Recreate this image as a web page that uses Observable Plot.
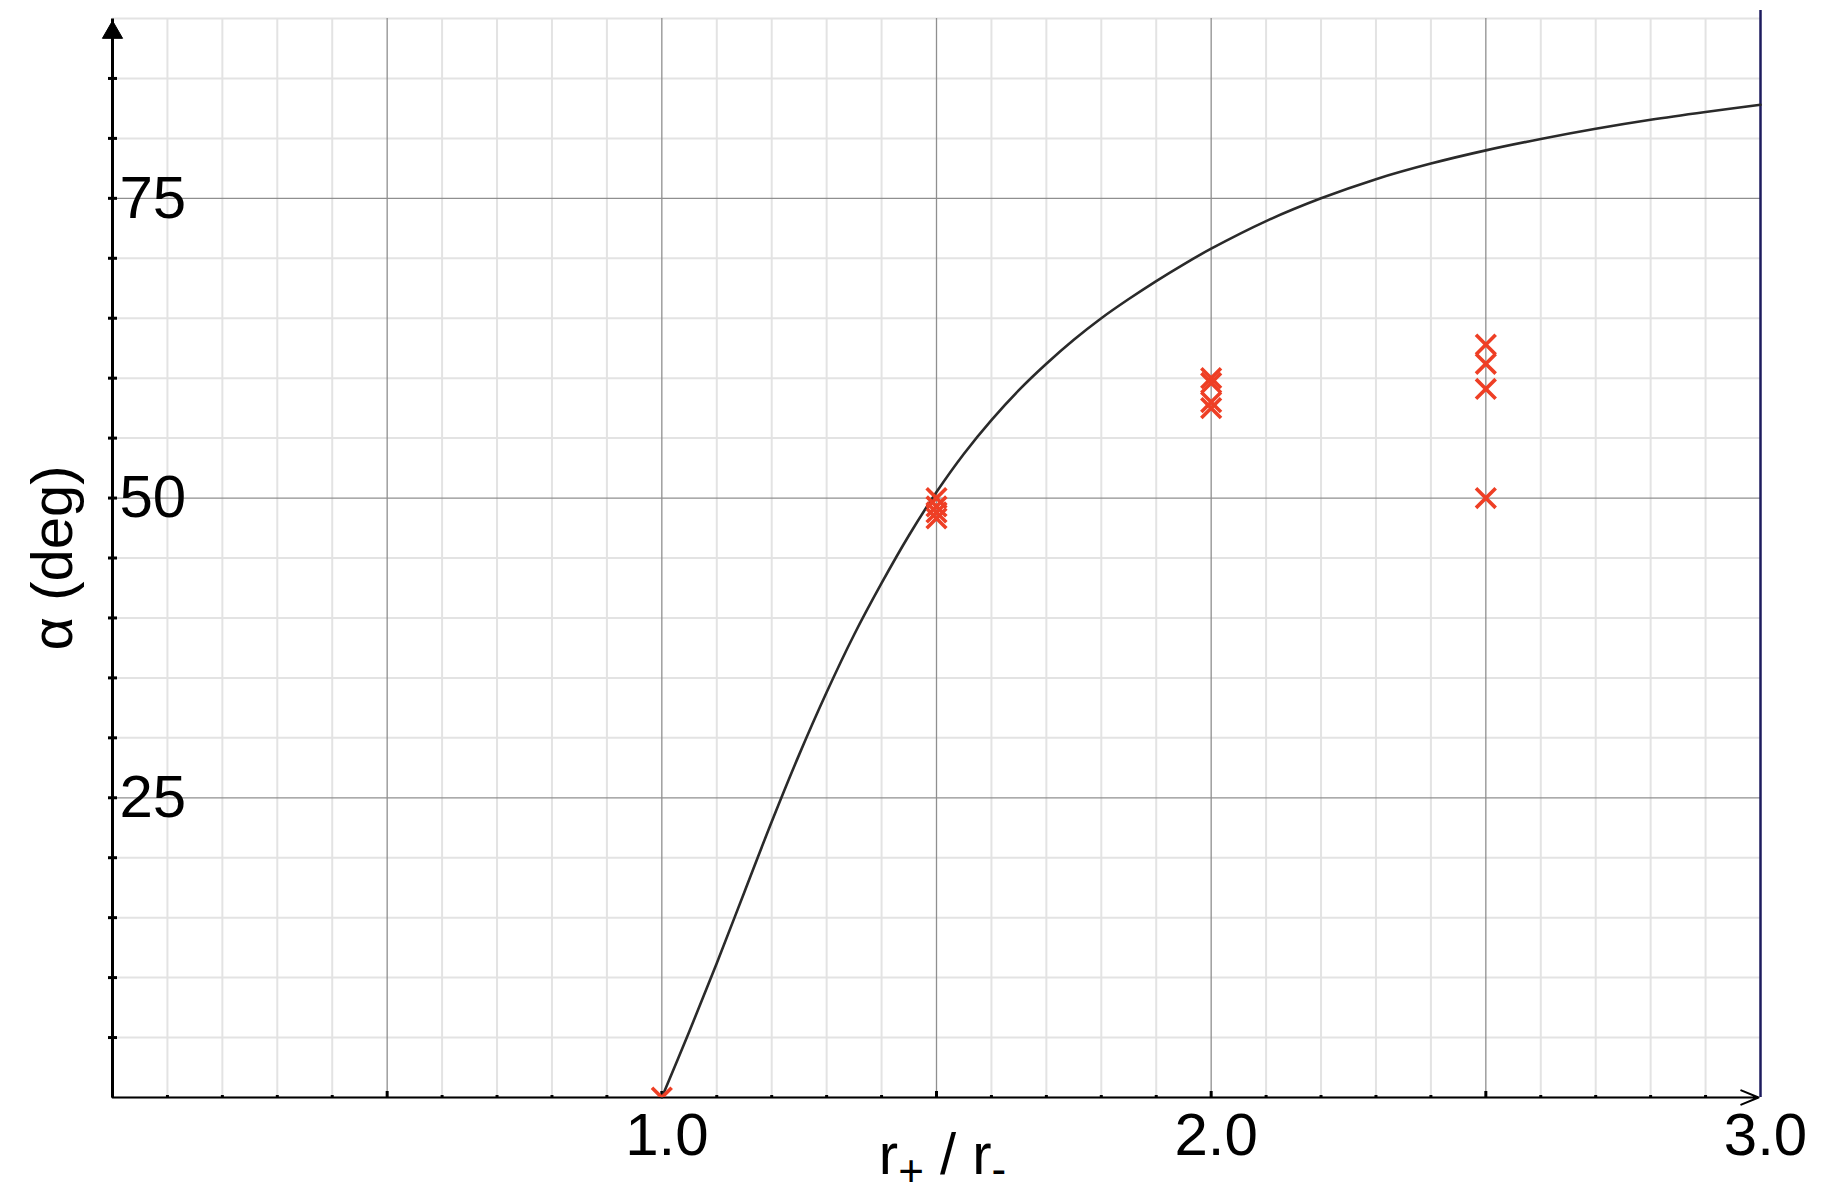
<!DOCTYPE html>
<html><head><meta charset="utf-8">
<script src="https://cdn.jsdelivr.net/npm/d3@7"></script>
<script src="https://cdn.jsdelivr.net/npm/@observablehq/plot@0.6"></script>
<style>html,body{margin:0;padding:0;background:#fff;overflow:hidden}</style>
</head><body><div id="chart"></div>
<script>
// ---- data ----
const curveX     = [1.0, 1.05, 1.1, 1.15, 1.2, 1.25, 1.3, 1.35, 1.4, 1.45, 1.5, 1.55, 1.6, 1.65, 1.7, 1.75, 1.8, 1.85, 1.9, 1.95, 2.0, 2.1, 2.2, 2.3, 2.4, 2.5, 2.6, 2.7, 2.8, 2.9, 3.0];
const curveAlpha = [0, 5.5, 11.2, 17.1, 23.0, 28.6, 33.8, 38.6, 42.9, 46.9, 50.5, 53.7, 56.5, 59.0, 61.2, 63.2, 65.0, 66.6, 68.1, 69.5, 70.8, 73.1, 75.0, 76.6, 77.9, 79.0, 79.95, 80.8, 81.55, 82.2, 82.8];
const markerX     = [1.0, 1.5, 1.5, 1.5, 1.5, 2.0, 2.0, 2.0, 2.0, 2.5, 2.5, 2.5, 2.5];
const markerAlpha = [0, 50.0, 49.3, 48.8, 48.3, 60.0, 59.6, 58.0, 57.5, 62.8, 61.2, 59.1, 50.0];
const xTickValues = [1, 2, 3];
const xTickLabels = ["1.0", "2.0", "3.0"];
const yTickValues = [25, 50, 75];
const yTickLabels = ["25", "50", "75"];
const xDomain = [0, 3];
const yDomain = [0, 90];
const xLabel = "r+ / r-";
const yLabel = "α (deg)";

const curve = curveX.map((x, i) => ({x, a: curveAlpha[i]}));
const markers = markerX.map((x, i) => ({x, a: markerAlpha[i]}));
const xTicks = xTickValues.map((v, i) => ({v, label: xTickLabels[i]}));
const yTicks = yTickValues.map((v, i) => ({v, label: yTickLabels[i]}));

const xMinor = d3.range(0, 31).map(i => i / 10).filter(v => Math.round(v * 10) % 5 !== 0);
const xMajor = [0.5, 1.0, 1.5, 2.0, 2.5];
const yMinor = d3.range(0, 19).map(i => i * 5).filter(v => v % 25 !== 0 || v === 0 || v === 90);
const yMajor = [25, 50, 75];
const yAxisTicks = d3.range(1, 18).map(i => i * 5);
const xSmallTicks = d3.range(1, 30).map(i => i / 10).filter(v => Math.round(v * 10) % 5 !== 0);
const xBigTicks = [0.5, 1.0, 1.5, 2.0, 2.5];

const FONT = "'Liberation Sans', Arial, Helvetica, sans-serif";
const minorColor = "#e3e3e3";
const majorColor = "#8f8f8f";
const markColor = "#ee3f25";

const chart = Plot.plot({
  width: 1822,
  height: 1195,
  marginLeft: 112,
  marginRight: 62,
  marginTop: 18,
  marginBottom: 98,
  x: {domain: xDomain, axis: null},
  y: {domain: yDomain, axis: null},
  style: {fontFamily: FONT, background: "white", color: "black"},
  marks: [
    Plot.ruleX(xMinor, {stroke: minorColor, strokeWidth: 2}),
    Plot.ruleY(yMinor, {stroke: minorColor, strokeWidth: 2}),
    Plot.ruleX(xMajor, {stroke: majorColor, strokeWidth: 1.3}),
    Plot.ruleY(yMajor, {stroke: majorColor, strokeWidth: 1.3}),
    Plot.ruleX([xDomain[1]], {stroke: "#1d1b5e", strokeWidth: 2.5, insetTop: -8}),
    // y axis with filled arrowhead
    Plot.link([0], {x1: () => xDomain[0], y1: () => yDomain[0], x2: () => xDomain[0], y2: () => yDomain[1],
      stroke: "black", strokeWidth: 3, insetEnd: 14}),
    Plot.dot([0], {x: () => xDomain[0], y: () => yDomain[1], symbol: "triangle", r: 7.5, fill: "black", stroke: "black",
      strokeWidth: 1, dy: 14}),
    // x axis with open arrowhead
    Plot.arrow([0], {x1: () => xDomain[0], y1: () => yDomain[0], x2: () => xDomain[1], y2: () => yDomain[0],
      stroke: "black", strokeWidth: 2, headLength: 14, headAngle: 45, insetEnd: 2}),
    Plot.ruleY(yAxisTicks, {x1: () => 0, x2: () => 0, insetLeft: -4, insetRight: -5, stroke: "black", strokeWidth: 3}),
    Plot.ruleX(xSmallTicks, {y1: () => 0, y2: () => 0, insetTop: -2, insetBottom: -1, stroke: "black", strokeWidth: 3}),
    Plot.ruleX(xBigTicks, {y1: () => 0, y2: () => 0, insetTop: -6, insetBottom: -1, stroke: "black", strokeWidth: 3}),
    // data
    Plot.line(curve, {x: "x", y: "a", stroke: "#2a2a2a", strokeWidth: 2.6, curve: "catmull-rom"}),
    Plot.dot(markers, {x: "x", y: "a", symbol: "times", r: 9, stroke: markColor, strokeWidth: 3.6, clip: true}),
    // tick labels
    Plot.text(yTicks, {x: () => 0, y: "v", text: "label", textAnchor: "start", lineAnchor: "middle",
      dx: 7, fontSize: 60, fill: "black"}),
    Plot.text(xTicks, {x: "v", y: () => 0, text: "label", textAnchor: "middle", lineAnchor: "top",
      dx: 5, dy: 15, fontSize: 60, fill: "black"}),
    // axis labels
    Plot.text([xLabel], {frameAnchor: "bottom", text: d => d, textAnchor: "middle", lineAnchor: "bottom",
      dx: 6, dy: 76, fontSize: 58, fill: "black"}),
    Plot.text([yLabel], {frameAnchor: "left", text: d => d, textAnchor: "middle", lineAnchor: "middle",
      rotate: -90, dx: -59, fontSize: 58, fill: "black"})
  ]
});

document.getElementById("chart").appendChild(chart);

// render the axis label with real subscripts
d3.select(chart).selectAll("text").each(function () {
  if (this.textContent === xLabel) {
    const t = d3.select(this);
    t.text(null);
    t.append("tspan").text("r");
    t.append("tspan").attr("font-size", 44).attr("dy", 12).text("+");
    t.append("tspan").attr("dy", -12).text(" / r");
    t.append("tspan").attr("font-size", 44).attr("dy", 10).text("-");
  }
});
</script>
</body></html>
